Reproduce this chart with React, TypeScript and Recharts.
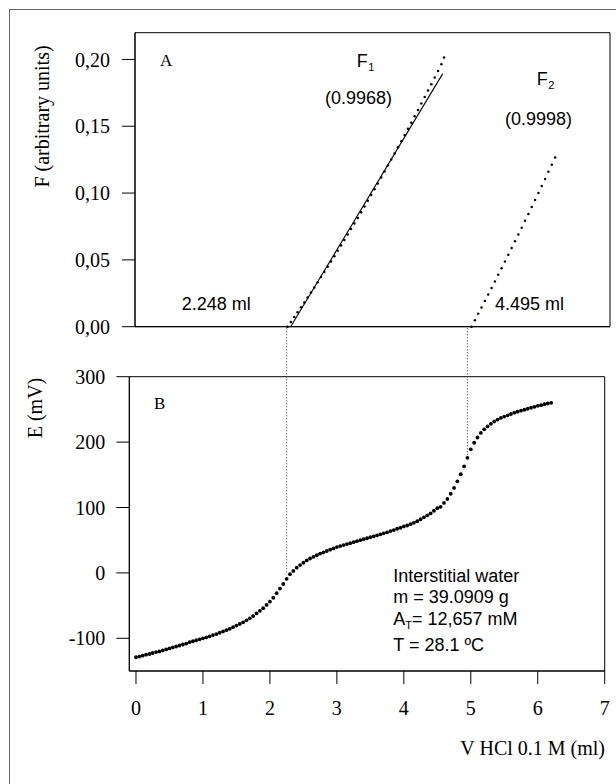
import { ComposedChart, Scatter, Line, XAxis, YAxis, ReferenceArea, ReferenceLine } from "recharts";

const serif = '"Liberation Serif", "Times New Roman", serif';
const sans = '"Liberation Sans", Arial, sans-serif';

// x ticks shared by both panels (ml of HCl)
const volumeTicks = [0, 1, 2, 3, 4, 5, 6, 7];

// panel A - Gran functions
const fTicks = [0, 0.05, 0.1, 0.15, 0.2];
const f1Volume = [
  2.18, 2.23, 2.28, 2.33, 2.38, 2.43, 2.48, 2.53, 2.58, 2.63, 2.68, 2.73, 2.78, 2.83, 2.88, 2.93,
  2.98, 3.03, 3.08, 3.13, 3.18, 3.23, 3.28, 3.33, 3.38, 3.43, 3.48, 3.53, 3.58, 3.63, 3.68, 3.73,
  3.78, 3.83, 3.88, 3.93, 3.98, 4.03, 4.08, 4.13, 4.18, 4.23, 4.28, 4.33, 4.38, 4.43, 4.48, 4.52,
];
const f1Value = [
  0, 0.0036, 0.0072, 0.0108, 0.0145, 0.0181, 0.0219, 0.0256, 0.0294, 0.0332, 0.0371, 0.0409,
  0.0449, 0.0488, 0.0528, 0.0568, 0.0608, 0.0649, 0.069, 0.0731, 0.0773, 0.0814, 0.0857, 0.0899,
  0.0942, 0.0985, 0.1029, 0.1072, 0.1117, 0.1161, 0.1206, 0.1251, 0.1296, 0.1342, 0.1388, 0.1434,
  0.1481, 0.1527, 0.1575, 0.1622, 0.167, 0.1718, 0.1767, 0.1815, 0.1865, 0.1914, 0.1964, 0.2015,
];
const f2Volume = [
  4.93, 4.98, 5.03, 5.08, 5.13, 5.18, 5.23, 5.28, 5.33, 5.38, 5.43, 5.48, 5.53,
  5.58, 5.63, 5.68, 5.73, 5.78, 5.83, 5.88, 5.93, 5.98, 6.03, 6.08, 6.13, 6.18,
];
const f2Value = [
  0, 0.0048, 0.0096, 0.0144, 0.0192, 0.0241, 0.029, 0.0339, 0.0388, 0.0438, 0.0488, 0.0538, 0.0588,
  0.0639, 0.069, 0.0741, 0.0792, 0.0844, 0.0896, 0.0948, 0.1, 0.1053, 0.1106, 0.1159, 0.1212, 0.1266,
];
const f1FitVolume = [2.227, 4.5];
const f1FitValue = [0, 0.1894];

// panel B - potentiometric titration curve
const eTicks = [-100, 0, 100, 200, 300];
const titrationVolume = [
  0, 0.05, 0.1, 0.15, 0.2, 0.25, 0.3, 0.35, 0.4, 0.45, 0.5, 0.55, 0.6, 0.65, 0.7, 0.75, 0.8, 0.85, 0.9, 0.95,
  1, 1.05, 1.1, 1.15, 1.2, 1.25, 1.3, 1.35, 1.4, 1.45, 1.5, 1.55, 1.6, 1.65, 1.7, 1.75, 1.8, 1.85, 1.9, 1.95,
  2, 2.05, 2.1, 2.15, 2.2, 2.25, 2.3, 2.35, 2.4, 2.45, 2.5, 2.55, 2.6, 2.65, 2.7, 2.75, 2.8, 2.85, 2.9, 2.95,
  3, 3.05, 3.1, 3.15, 3.2, 3.25, 3.3, 3.35, 3.4, 3.45, 3.5, 3.55, 3.6, 3.65, 3.7, 3.75, 3.8, 3.85, 3.9, 3.95,
  4, 4.05, 4.1, 4.15, 4.2, 4.25, 4.3, 4.35, 4.4, 4.45, 4.5, 4.55, 4.6, 4.65, 4.7, 4.75, 4.8, 4.85, 4.9, 4.95,
  5, 5.05, 5.1, 5.15, 5.2, 5.25, 5.3, 5.35, 5.4, 5.45, 5.5, 5.55, 5.6, 5.65, 5.7, 5.75, 5.8, 5.85, 5.9, 5.95,
  6, 6.05, 6.1, 6.15, 6.2,
];
const titrationE = [
  -129, -128, -126.5, -125, -124, -122.5, -121, -120, -118.5, -117, -115.5, -114, -112.5, -111, -109.5, -108, -106, -104.5, -103, -101.5,
  -100, -98.5, -97, -95, -93.5, -91.5, -89.5, -87.5, -85.5, -83, -80.5, -78, -75.5, -72.5, -69.5, -66, -62, -58, -54, -49,
  -44, -38, -31, -24, -17, -9, -2, 3, 8, 12, 15.5, 19, 22, 24.5, 27, 29.5, 31.5, 33.5, 35.5, 37.5,
  39.5, 41, 42.5, 44, 45.5, 47, 48.5, 50, 51.5, 53, 54.5, 56, 57.5, 59, 60.5, 62, 64, 65.5, 67.5, 69,
  71, 72.5, 74.5, 76.5, 79, 82, 85, 88, 91, 95, 99, 101, 107, 113, 121, 130, 140, 151, 163, 176,
  189, 199, 207, 214, 219.5, 224, 228, 231.5, 234.5, 237, 239, 241, 243, 245, 246.5, 248, 249.5, 251, 252.5, 254,
  255.5, 256.5, 258, 259, 260,
];
// vertical dotted guides from the Gran intercepts down to the curve
const guideVolume = [2.25, 4.95];
const guideEnd = [0, 180];
const guideTop = 374;

const f1Data = f1Volume.map((v, i) => ({ v, f: f1Value[i] }));
const f2Data = f2Volume.map((v, i) => ({ v, f: f2Value[i] }));
const fitData = f1FitVolume.map((v, i) => ({ v, f: f1FitValue[i] }));
const titrationData = titrationVolume.map((v, i) => ({ v, e: titrationE[i] }));

const smallDot = (props: any) => <circle cx={props.cx} cy={props.cy} r={1.25} fill="#000" />;
const bigDot = (props: any) => <circle cx={props.cx} cy={props.cy} r={1.9} fill="#000" />;

const LeftTick = ({ x, y, payload, format }: any) => (
  <text x={x} y={y} dy="0.355em" textAnchor="end" fontFamily={serif} fontSize={20} fill="#000">
    {format ? format(payload.value) : payload.value}
  </text>
);

const BottomTick = ({ x, y, payload }: any) => (
  <text x={x} y={y} dy="0.71em" textAnchor="middle" fontFamily={serif} fontSize={20} fill="#000">
    {payload.value}
  </text>
);

const commaFormat = (t: number) => t.toFixed(2).replace(".", ",");

const PanelA = () => (
  <ComposedChart width={616} height={360} margin={{ top: 32.7, right: 6, bottom: 0, left: 0 }}>
    <XAxis
      type="number"
      dataKey="v"
      domain={[-0.1, 7]}
      ticks={volumeTicks}
      tick={false}
      tickSize={13}
      height={33.3}
      stroke="#000"
    />
    <YAxis
      type="number"
      dataKey="f"
      domain={[0, 0.22]}
      ticks={fTicks}
      width={135}
      tickSize={13}
      tickMargin={12}
      tick={(p: any) => <LeftTick {...p} format={commaFormat} />}
      stroke="#000"
    />
    <ReferenceArea x1={-0.1} x2={7} y1={0} y2={0.22} fill="none" stroke="#000" ifOverflow="visible" />
    <Line data={fitData} dataKey="f" stroke="#000" strokeWidth={1.1} dot={false} isAnimationActive={false} />
    <Scatter data={f1Data} shape={smallDot} isAnimationActive={false} />
    <Scatter data={f2Data} shape={smallDot} isAnimationActive={false} />
  </ComposedChart>
);

const PanelB = () => (
  <ComposedChart width={616} height={484} margin={{ top: 76.7, right: 11.3, bottom: 0, left: 0 }}>
    <XAxis
      type="number"
      dataKey="v"
      domain={[-0.1, 7]}
      ticks={volumeTicks}
      tickSize={13}
      tickMargin={17}
      tick={(p: any) => <BottomTick {...p} />}
      height={113}
      stroke="#000"
    />
    <YAxis
      type="number"
      dataKey="e"
      domain={[-150, 300]}
      ticks={eTicks}
      width={129.3}
      tickSize={13}
      tickMargin={11}
      tick={(p: any) => <LeftTick {...p} />}
      stroke="#000"
    />
    <ReferenceArea x1={-0.1} x2={7} y1={-150} y2={300} fill="none" stroke="#000" ifOverflow="visible" />
    {guideVolume.map((v, i) => (
      <ReferenceLine
        key={v}
        segment={[{ x: v, y: guideTop }, { x: v, y: guideEnd[i] }]}
        stroke="#333"
        strokeDasharray="1 2"
        ifOverflow="visible"
      />
    ))}
    <Scatter data={titrationData} shape={bigDot} isAnimationActive={false} />
  </ComposedChart>
);

const Notes = () => (
  <svg width={616} height={784} style={{ position: "absolute", left: 0, top: 0, pointerEvents: "none" }}>
    <g fontFamily={serif} fill="#000">
      <text x={160} y={65.7} fontSize={17}>A</text>
      <text x={154} y={409} fontSize={17}>B</text>
      <text transform="translate(42,116.5) rotate(-90)" textAnchor="middle" dominantBaseline="central" fontSize={20}>
        F (arbitrary units)
      </text>
      <text transform="translate(35,408) rotate(-90)" textAnchor="middle" dominantBaseline="central" fontSize={20}>
        E (mV)
      </text>
      <text x={605} y={755} textAnchor="end" fontSize={20}>V HCl 0.1 M (ml)</text>
    </g>
    <g fontFamily={sans} fill="#000" fontSize={18}>
      <text x={181.7} y={310}>2.248 ml</text>
      <text x={495} y={310}>4.495 ml</text>
      <text x={356.7} y={66.7}>F<tspan fontSize={11} dx={0.5} dy={4}>1</tspan></text>
      <text x={325} y={103.5}>(0.9968)</text>
      <text x={536.7} y={85}>F<tspan fontSize={11} dx={0.5} dy={4}>2</tspan></text>
      <text x={505} y={124.5}>(0.9998)</text>
      <text x={393.3} y={581.7}>Interstitial water</text>
      <text x={393.3} y={602.7}>m = 39.0909 g</text>
      <text x={393.3} y={625}>
        A<tspan fontSize={11} dy={4}>T</tspan><tspan dy={-4}>= 12,657 mM</tspan>
      </text>
      <text x={393.3} y={650.7}>T = 28.1 ºC</text>
    </g>
  </svg>
);

export default function App() {
  return (
    <div style={{ position: "absolute", left: 0, top: 0, width: 616, height: 784, overflow: "hidden", background: "#fff" }}>
      <div
        style={{
          position: "absolute",
          left: 8.5,
          top: 9.3,
          width: 700,
          height: 900,
          borderLeft: "1.5px solid #666",
          borderTop: "1.5px solid #666",
        }}
      />
      <div style={{ position: "absolute", left: 0, top: 0 }}>
        <PanelA />
      </div>
      <div style={{ position: "absolute", left: 0, top: 300 }}>
        <PanelB />
      </div>
      <Notes />
    </div>
  );
}
